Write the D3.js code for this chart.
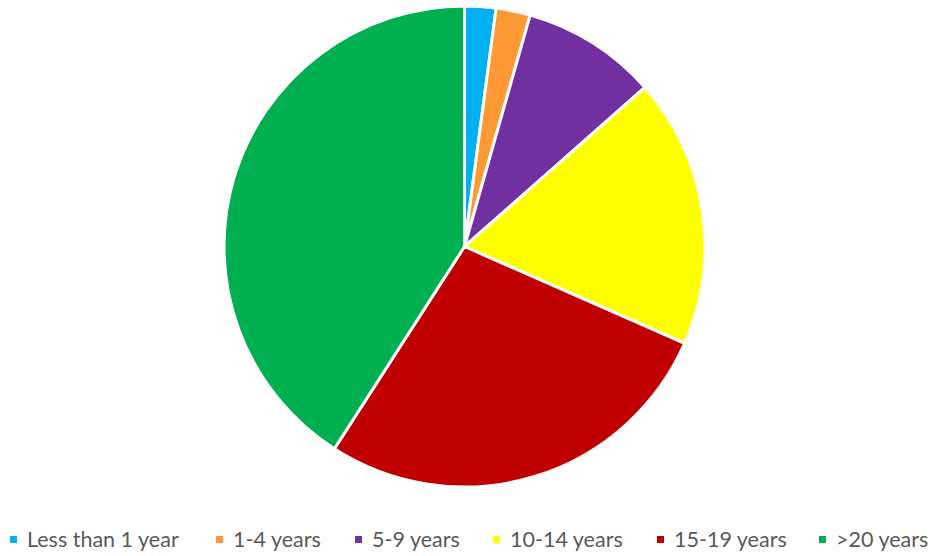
<!DOCTYPE html>
<html lang="en">
<meta charset="UTF-8">
<title>Years pie</title>
<style>
body { margin: 0; background: #fff; }
.legend text { font-family: Lato, "Open Sans", sans-serif; font-size: 21.5px; fill: #595959; }
</style>
<body>
<script src="https://d3js.org/d3.v7.min.js"></script>
<script>
var categories = ["Less than 1 year", "1-4 years", "5-9 years", "10-14 years", "15-19 years", ">20 years"]
var values = [2.1, 2.3, 9.1, 18.1, 27.5, 40.9]
var colors = ["#00b0f0", "#ff9933", "#7030a0", "#ffff00", "#c00000", "#00b050"]
// legend x positions of the marker squares
var legendX = [10, 216, 355, 493, 657, 819]

var width = 937, height = 556
var cx = 464.5, cy = 246.5, r = 240.5

var svg = d3.select("body").append("svg")
  .attr("width", width)
  .attr("height", height)

var pie = d3.pie().sort(null).value(function(d) { return d })
var arc = d3.arc().innerRadius(0).outerRadius(r)
var color = d3.scaleOrdinal().domain(categories).range(colors)

svg.append("g")
  .attr("transform", "translate(" + cx + "," + cy + ")")
  .selectAll("path")
  .data(pie(values))
  .enter()
  .append("path")
  .attr("d", arc)
  .attr("fill", function(d, i) { return color(categories[i]) })
  .attr("stroke", "#fff")
  .attr("stroke-width", 3)
  .attr("stroke-linejoin", "round")

var legend = svg.append("g").attr("class", "legend")
  .selectAll("g")
  .data(categories)
  .enter()
  .append("g")
  .attr("transform", function(d, i) { return "translate(" + legendX[i] + ",0)" })

legend.append("rect")
  .attr("x", 0).attr("y", 536)
  .attr("width", 7).attr("height", 7)
  .attr("fill", function(d) { return color(d) })

legend.append("text")
  .attr("x", 17).attr("y", 547)
  .text(function(d) { return d })
</script>
</body>
</html>
